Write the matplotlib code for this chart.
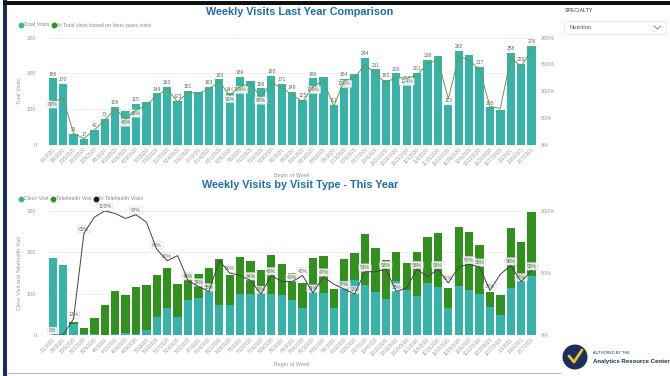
import matplotlib
matplotlib.use("Agg")
import matplotlib.pyplot as plt
import numpy as np
import pandas as pd
from matplotlib.patches import Rectangle, Circle
from matplotlib.lines import Line2D

plt.rcParams['font.family'] = ['Liberation Sans', 'DejaVu Sans']

TEAL = '#37b3a9'
GREEN = '#32901f'
TITLE_BLUE = '#1f6fae'
GREY = '#9a9a9a'

# weekly categories
weeks = pd.date_range('2020-03-01', periods=47, freq='7D')
week_labels = [f"{d.month}/{d.day}/{d.year}" for d in weeks]

# top chart: total visits and % of last year's visits
total_visits = [186, 170, 31, 17, 42, 73, 106, 96, 115, 120, 144, 163, 123, 151, 148, 163,
                183, 144, 189, 180, 158, 193, 171, 149, 125, 186, 190, 111, 184, 198, 244, 211,
                182, 200, 175, 201, 238, 247, 113, 262, 250, 217, 105, 97, 258, 226, 276]
pct_last_year = [82, 86, 22, 12, 28, 46, 68, 48, 65, 74, 92, 104, 80, 98, 96, 104,
                 118, 92, 109, 114, 89, 116, 106, 94, 80, 109, 120, 72, 120, 125, 150, 132,
                 116, 126, 124, 130, 152, 158, 86, 165, 158, 140, 72, 68, 163, 146, 178]

# bottom chart: visits by type
clinic_visits = [186, 170, 27, 3, 2, 0, 2, 6, 3, 11, 44, 65, 44, 85, 90, 106,
                 73, 72, 98, 100, 106, 100, 97, 85, 65, 122, 101, 65, 116, 132, 120, 103,
                 86, 130, 109, 95, 127, 116, 66, 119, 108, 98, 67, 49, 113, 129, 143]
telehealth_visits = [0, 0, 4, 14, 40, 73, 104, 90, 112, 109, 100, 98, 79, 66, 58, 57,
                     110, 72, 91, 80, 52, 93, 74, 64, 60, 64, 89, 46, 68, 66, 124, 108,
                     96, 70, 66, 106, 111, 131, 47, 143, 142, 119, 38, 48, 145, 97, 155]
pct_telehealth = [0, 0, 13, 82, 95, 100, 98, 94, 97, 91, 69, 60, 64, 44, 39, 35,
                  60, 50, 48, 44, 33, 48, 43, 43, 48, 34, 47, 41, 37, 33, 51, 51,
                  53, 35, 38, 53, 47, 53, 42, 55, 57, 55, 36, 49, 56, 43, 52]

# which labels Power BI kept visible
top_bar_hidden = [7, 9, 14, 19, 26, 29, 37, 40, 43]
top_line_shown = [0, 7, 8, 17, 18, 20, 25, 28, 34]
bottom_line_shown = [0, 2, 3, 5, 8, 10, 11, 13, 14, 15, 17, 19, 20, 21, 23, 24, 25, 26,
                     28, 29, 30, 32, 33, 35, 37, 38, 40, 41, 42, 44, 45, 46]

W, H = 670, 376
fig = plt.figure(figsize=(W / 100, H / 100), dpi=100)


def fx(x):
    return x / W


def fy(y):
    return 1 - y / H


x = np.arange(len(week_labels))


def style_axes(ax, ylabel):
    ax.set_xlim(-0.5, len(x) - 0.5)
    ax.set_ylim(0, 300)
    ax.set_yticks([0, 100, 200, 300])
    ax.grid(axis='y', color='#ececec', lw=0.6, zorder=0)
    ax.set_axisbelow(True)
    for s in ax.spines.values():
        s.set_visible(False)
    ax.tick_params(axis='y', labelsize=4, colors=GREY, length=0, pad=8)
    ax.tick_params(axis='x', labelsize=3.3, colors=GREY, length=0, pad=1.5)
    ax.set_xticks(x)
    ax.set_xticklabels(week_labels, rotation=45, ha='right', rotation_mode='anchor')
    ax.set_ylabel(ylabel, fontsize=4, color=GREY)
    ax.yaxis.set_label_coords(-0.052, 0.5)


def style_twin(ax, top, ticks):
    ax.set_ylim(0, top)
    ax.set_yticks(ticks)
    ax.set_yticklabels([f"{t}%" for t in ticks])
    for s in ax.spines.values():
        s.set_visible(False)
    ax.tick_params(axis='y', labelsize=4, colors=GREY, length=0, pad=3)


box = dict(boxstyle='round,pad=0.25', fc='white', ec='#d0d0d0', lw=0.4, alpha=0.85)

# ---- top chart ----
ax1 = fig.add_axes([fx(47.5), fy(145), 489.3 / W, 107.5 / H])
ax1.bar(x, total_visits, width=0.8, color=TEAL, zorder=2)
style_axes(ax1, 'Total Visits')
ax1.set_xlabel('Begin of Week', fontsize=4, color=GREY)
ax1.xaxis.set_label_coords(0.5, -0.26)
for i, v in enumerate(total_visits):
    if i not in top_bar_hidden:
        ax1.text(i, v + 5, str(v), ha='center', va='bottom', fontsize=3.6, color='#666', zorder=3)

ax1t = ax1.twinx()
ax1t.plot(x, pct_last_year, color='#6b9a45', lw=0.7, zorder=4)
style_twin(ax1t, 200, [0, 50, 100, 150, 200])
for i in top_line_shown:
    ax1t.annotate(f"{pct_last_year[i]}%", (i, pct_last_year[i]), xytext=(0, -2.5),
                  textcoords='offset points', ha='center', va='center',
                  fontsize=3.6, color='#666', bbox=box)

# ---- bottom chart ----
ax2 = fig.add_axes([fx(47.5), fy(335), 489.3 / W, 124 / H])
ax2.bar(x, clinic_visits, width=0.8, color=TEAL, zorder=2)
ax2.bar(x, telehealth_visits, width=0.8, bottom=clinic_visits, color=GREEN, zorder=2)
style_axes(ax2, 'Clinic Visit and Telehealth Visit')
ax2.set_xlabel('Begin of Week', fontsize=4, color=GREY)
ax2.xaxis.set_label_coords(0.5, -0.22)

ax2t = ax2.twinx()
ax2t.plot(x, pct_telehealth, color='#444444', lw=0.7, zorder=4)
style_twin(ax2t, 100, [0, 50, 100])
for i in bottom_line_shown:
    ax2t.annotate(f"{pct_telehealth[i]}%", (i, pct_telehealth[i]), xytext=(0, 3),
                  textcoords='offset points', ha='center', va='center',
                  fontsize=3.6, color='#666', bbox=box)

# ---- titles and legends ----
fig.text(fx(300), fy(12), 'Weekly Visits Last Year Comparison', ha='center', va='center',
         fontsize=7.8, fontweight='bold', color=TITLE_BLUE)
fig.text(fx(300), fy(185), 'Weekly Visits by Visit Type - This Year', ha='center', va='center',
         fontsize=7.8, fontweight='bold', color=TITLE_BLUE)


def dot(c):
    return Line2D([], [], marker='o', ls='', color=c, markersize=3.2)


leg_kw = dict(loc='center left', ncol=3, fontsize=3.8, frameon=False, handlelength=0.6,
              handletextpad=0.2, columnspacing=0.6, labelcolor='#888', borderpad=0)
fig.legend([dot(TEAL), dot(GREEN)],
           ['Total Visits', '% Total visits based on lasts years visits'],
           bbox_to_anchor=(fx(17), fy(25)), **leg_kw)
fig.legend([dot(TEAL), dot(GREEN), dot('#1a1a1a')],
           ['Clinic Visit', 'Telehealth Visit', '% Telehealth Visits'],
           bbox_to_anchor=(fx(17), fy(199)), **leg_kw)

# ---- slicer ----
fig.text(fx(565), fy(11), 'SPECIALTY', fontsize=3.8, color='#444', va='center')
fig.add_artist(Rectangle((fx(564), fy(34)), 102 / W, 13 / H, transform=fig.transFigure,
                         fc='white', ec='#e2e2e2', lw=0.5))
fig.text(fx(569), fy(27.5), 'Nutrition', fontsize=4.2, color='#555', va='center')
fig.add_artist(Line2D([fx(654), fx(657.5), fx(661)], [fy(26), fy(29), fy(26)],
                      transform=fig.transFigure, color='#777', lw=0.6))

# ---- logo ----
fig.add_artist(Circle((5.75, (H - 357) / 100), 0.125, transform=fig.dpi_scale_trans,
                      fc='#1b2f5e', ec='none'))
fig.add_artist(Line2D([fx(569), fx(574), fx(582)], [fy(356), fy(362), fy(350)],
                      transform=fig.transFigure, color='#f2c01e', lw=2,
                      solid_capstyle='round'))
fig.text(fx(593), fy(353), 'AUTHORED BY THE', fontsize=2.8, color='#1b2f5e', va='center')
fig.text(fx(593), fy(361), 'Analytics Resource Center', fontsize=4.3, fontweight='bold',
         color='#1b2f5e', va='center')

# ---- frame ----
fig.add_artist(Rectangle((fx(3), 0), 4 / W, 1, transform=fig.transFigure,
                         fc='#14305a', ec='none'))
fig.add_artist(Rectangle((fx(3), fy(5)), 1 - fx(3), 4 / H, transform=fig.transFigure,
                         fc='#111111', ec='none'))
fig.add_artist(Line2D([fx(7), fx(560)], [fy(373), fy(373)], transform=fig.transFigure,
                      color='#bbbbbb', lw=0.8))

fig.savefig('out.png', dpi=100, facecolor='white')
